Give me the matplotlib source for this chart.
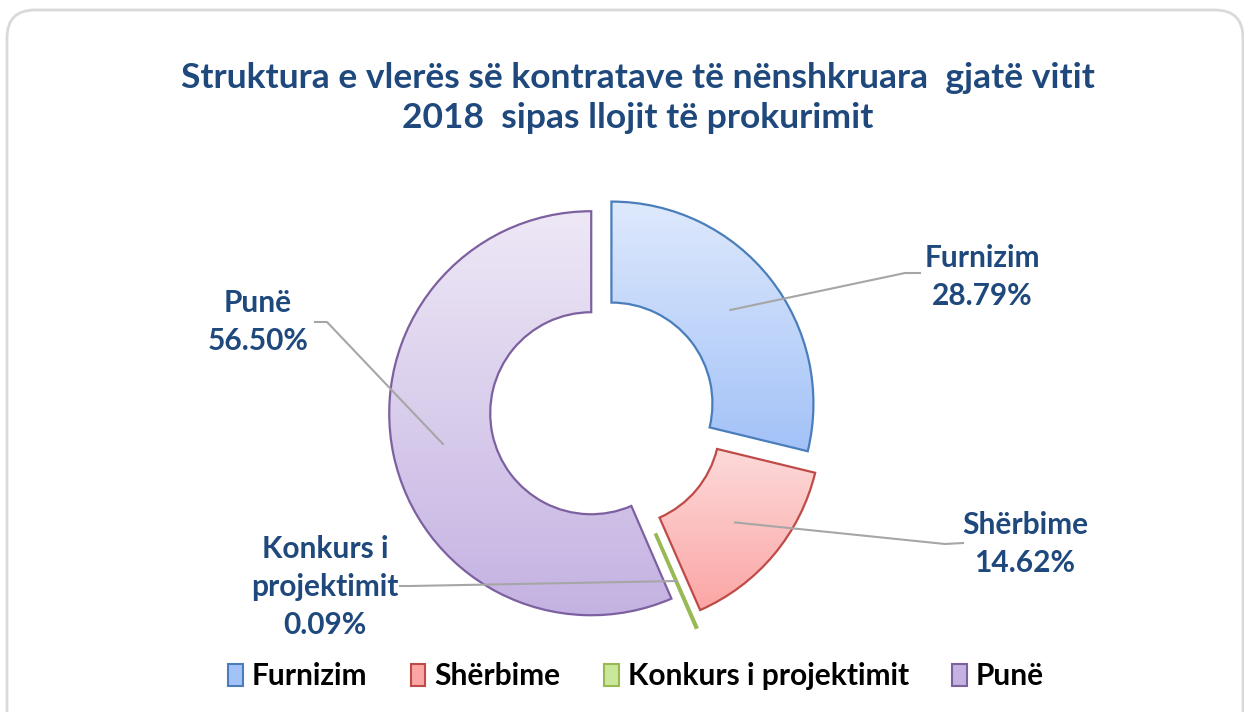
import numpy as np
import matplotlib
matplotlib.use('Agg')
import matplotlib.pyplot as plt
from matplotlib.patches import FancyBboxPatch, Patch
from matplotlib.colors import LinearSegmentedColormap

plt.rcParams['font.family'] = ['Lato', 'DejaVu Sans']

# data
categories = ['Furnizim', 'Shërbime', 'Konkurs i projektimit', 'Punë']
label_names = ['Furnizim', 'Shërbime', 'Konkurs i\nprojektimit', 'Punë']
shares = [28.79, 14.62, 0.09, 56.50]
title = 'Struktura e vlerës së kontratave të nënshkruara  gjatë vitit\n2018  sipas llojit të prokurimit'

# styles
tops = ['#dee9fc', '#fde1e1', '#eef8d8', '#eee8f6']
bottoms = ['#a3c2f8', '#fba6a5', '#c9e89a', '#c4b2e2']
edges = ['#4a7ebb', '#be4b48', '#98b954', '#7d60a0']
explode = [12, 22, 34, 11]
blue_txt = '#1f497d'

W, H = 1244, 712
fig = plt.figure(figsize=(W / 100, H / 100), dpi=100)
ax = fig.add_axes([0, 0, 1, 1])

cx, cy = 602, H - 411
R, ring = 202, 101
wedges, _ = ax.pie(shares, radius=R, center=(cx, cy), startangle=90,
                   counterclock=False, explode=explode, colors=tops,
                   wedgeprops=dict(width=ring, linewidth=1.6))

grad = np.linspace(0, 1, 256).reshape(-1, 1)
for w, top, bot, ec in zip(wedges, tops, bottoms, edges):
    w.set_edgecolor(ec)
    w.set_facecolor('none')
    w.set_zorder(3)
    v = w.get_path().vertices
    cmap = LinearSegmentedColormap.from_list('g', [bot, top])
    im = ax.imshow(grad, cmap=cmap, origin='lower', aspect='auto',
                   extent=[v[:, 0].min(), v[:, 0].max(), v[:, 1].min(), v[:, 1].max()],
                   zorder=2)
    im.set_clip_path(w)
wedges[2].set_linewidth(2.2)

# data labels with leader lines: (text x, text y, elbow x, elbow y, end x, end y) in pixels
label_pos = [(982, 277, 905, 273, 920, 273),
             (1025, 544, 945, 544, 963, 543),
             (325, 587, 410, 586, 400, 586),
             (258, 322, 327, 322, 315, 322)]
for w, name, val, lp in zip(wedges, label_names, shares, label_pos):
    tm = np.deg2rad((w.theta1 + w.theta2) / 2)
    rm = w.r - ring / 2
    sx = w.center[0] + rm * np.cos(tm)
    sy = w.center[1] + rm * np.sin(tm)
    ax.plot([sx, lp[2], lp[4]], [sy, H - lp[3], H - lp[5]], color='#a6a6a6', lw=1.5, zorder=4)
    ax.text(lp[0], H - lp[1], f'{name}\n{val:.2f}%', ha='center', va='center',
            fontsize=21.5, fontweight='bold', color=blue_txt, linespacing=1.42, zorder=5)

ax.text(638, H - 98, title, ha='center', va='center', fontsize=25.5,
        fontweight='bold', color=blue_txt, linespacing=1.3)

handles = [Patch(facecolor=t, edgecolor=e, lw=1.5) for t, e in zip(bottoms, edges)]
ax.legend(handles, categories, loc='center', bbox_to_anchor=(636 / W, 1 - 676 / H),
          ncol=4, frameon=False, handlelength=0.5, handleheight=0.75,
          handletextpad=0.3, columnspacing=1.45,
          prop=dict(family=['Lato', 'DejaVu Sans'], weight='bold', size=21.5))

ax.add_patch(FancyBboxPatch((7, -30), 1236, H - 10 + 30,
                            boxstyle='round,pad=0,rounding_size=28',
                            fc='none', ec='#d9d9d9', lw=2, zorder=0))

ax.set_xlim(0, W)
ax.set_ylim(0, H)
ax.set_aspect('auto')
ax.axis('off')

fig.savefig('out.png', dpi=100, facecolor='white')
